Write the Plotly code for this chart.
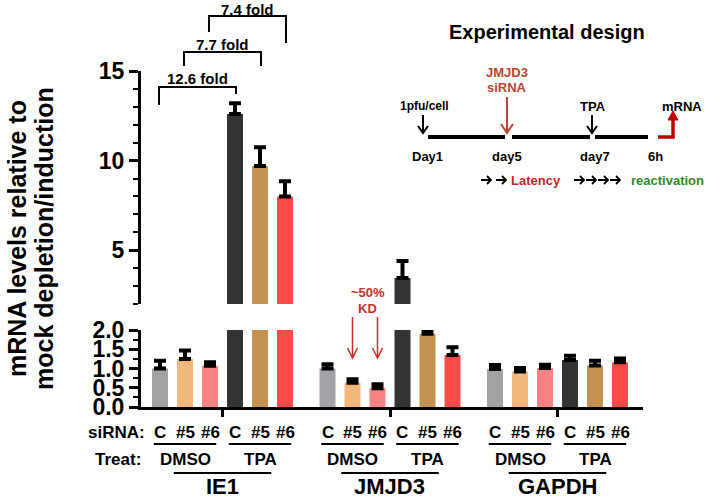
import plotly.graph_objects as go

# ---------------- data ----------------
genes = ["IE1", "JMJD3", "GAPDH"]
sirna_labels = ["C", "#5", "#6", "C", "#5", "#6"]
treat_labels = ["DMSO", "TPA"]

ie1_mean = [1.00, 1.25, 1.07, 12.6, 9.7, 8.0]
ie1_err = [0.20, 0.22, 0.09, 0.60, 1.05, 0.85]
jmjd3_mean = [1.00, 0.63, 0.49, 3.45, 1.90, 1.35]
jmjd3_err = [0.11, 0.09, 0.10, 0.95, 0.07, 0.20]
gapdh_mean = [0.99, 0.92, 1.01, 1.22, 1.08, 1.16]
gapdh_err = [0.10, 0.09, 0.09, 0.11, 0.12, 0.10]

bar_colors = ["#a3a3a7", "#f2b77b", "#f98282", "#333333", "#c29250", "#fa4b4b"]
fold_labels = ["12.6 fold", "7.7 fold", "7.4 fold"]
upper_ticks = [5, 10, 15]
lower_ticks = [0, 0.5, 1.0, 1.5, 2.0]
lower_ticktext = ["0.0", "0.5", "1.0", "1.5", "2.0"]
BREAK = 2.0

# ---------------- layout geometry ----------------
W, H = 706, 498
ML, MR, MT, MB = 141, 63, 60, 91
XMIN, XMAX = -0.76, 19.32
GROUP_STEP = 6.7
FONT = "Arial, Liberation Sans, sans-serif"


def px(x):
    return (x - ML) / (W - ML - MR)


def py(y):
    return (H - MB - y) / (H - MT - MB)


def dx(x):
    return (x - XMIN) / (XMAX - XMIN)


means = ie1_mean + jmjd3_mean + gapdh_mean
errs = ie1_err + jmjd3_err + gapdh_err
xs = [g * GROUP_STEP + i for g in range(len(genes)) for i in range(6)]
colors = bar_colors * len(genes)

upper_means = [m if m > BREAK else None for m in means]
lower_errs = [e if m < BREAK else 0 for m, e in zip(means, errs)]

fig = go.Figure()
for yax, vals, ev in [("y", means, lower_errs), ("y2", upper_means, errs)]:
    fig.add_trace(go.Bar(
        x=xs, y=vals, yaxis=yax, width=0.64,
        marker=dict(color=colors, line=dict(width=0)),
        error_y=dict(type="data", array=ev, arrayminus=[0] * len(ev),
                     symmetric=False, color="black", thickness=4, width=6),
        showlegend=False, hoverinfo="skip",
    ))

lower_dom = [0, py(330)]
upper_dom = [py(304), py(71)]

fig.update_layout(
    width=W, height=H, autosize=False,
    margin=dict(l=ML, r=MR, t=MT, b=MB, pad=0),
    plot_bgcolor="white", paper_bgcolor="white",
    barmode="overlay",
    font=dict(family=FONT, color="black"),
    xaxis=dict(domain=[0, 1], range=[XMIN, XMAX], anchor="y",
               showline=True, linecolor="black", linewidth=3,
               tickmode="array", tickvals=[g * GROUP_STEP + 2.5 for g in range(3)],
               ticktext=["", "", ""], ticks="outside", ticklen=7, tickwidth=3,
               tickcolor="black", showgrid=False, zeroline=False),
    yaxis=dict(domain=lower_dom, range=[0, 2], anchor="x",
               showline=True, linecolor="black", linewidth=3,
               tickmode="array", tickvals=lower_ticks, ticktext=lower_ticktext,
               ticks="outside", ticklen=9, tickwidth=3, tickcolor="black",
               tickfont=dict(size=23, family=FONT, weight="bold"),
               minor=dict(dtick=0.25, ticklen=5, tickwidth=2, tickcolor="black", ticks="outside"),
               showgrid=False, zeroline=False),
    yaxis2=dict(domain=upper_dom, range=[2, 15], anchor="x",
                showline=True, linecolor="black", linewidth=3,
                tickmode="array", tickvals=upper_ticks,
                ticks="outside", ticklen=9, tickwidth=3, tickcolor="black",
                tickfont=dict(size=23, family=FONT, weight="bold"),
                minor=dict(tickmode="array", tickvals=list(range(2, 16)), ticklen=5,
                           tickwidth=2, tickcolor="black", ticks="outside"),
                showgrid=False, zeroline=False),
)

shapes = []
ann = []


def text(x, y, s, size=12, color="black", xanchor="center", yanchor="middle"):
    ann.append(dict(x=x, y=y, xref="paper", yref="paper", text="<b>%s</b>" % s,
                    showarrow=False, xanchor=xanchor, yanchor=yanchor,
                    font=dict(size=size, color=color, family=FONT)))


def line(x0, y0, x1, y1, color="black", width=2):
    shapes.append(dict(type="line", xref="paper", yref="paper", x0=x0, y0=y0,
                       x1=x1, y1=y1, line=dict(color=color, width=width)))


def path(points, color="black", width=2, fill=None):
    d = ""
    for cmd, (a, b) in points:
        d += "%s%.5f,%.5f " % (cmd, px(a), py(b))
    if fill:
        d += "Z"
    shapes.append(dict(type="path", xref="paper", yref="paper", path=d,
                       line=dict(color=color, width=width),
                       fillcolor=fill if fill else "rgba(0,0,0,0)"))


def down_arrow(x, y0, y1, color, width=2, hw=5, hh=8):
    path([("M", (x, y0)), ("L", (x, y1)), ("M", (x - hw, y1 - hh)),
          ("L", (x, y1)), ("L", (x + hw, y1 - hh))], color=color, width=width)


def right_arrow(cx, y, color="black", width=1.8):
    path([("M", (cx - 5, y)), ("L", (cx + 5, y)), ("M", (cx + 1, y - 4)),
          ("L", (cx + 5, y)), ("L", (cx + 1, y + 4))], color=color, width=width)


# y-axis title (two lines)
text(px(17), py(239), "mRNA levels relative to", size=25)
ann[-1]["textangle"] = -90
text(px(44), py(239), "mock depletion/induction", size=25)
ann[-1]["textangle"] = -90

# fold-change brackets
bracket_tops = [87, 52, 16]
bracket_left_bottoms = [105, 66, 32]
bracket_right_bottoms = [94, 66, 43]
label_centers = [79, 44, 9]
for k, lab in enumerate(fold_labels):
    xl = dx(xs[k]) - 0.002
    xr = dx(xs[k + 3]) + 0.002
    yt = py(bracket_tops[k])
    shapes.append(dict(type="path", xref="paper", yref="paper",
                       path="M%.5f,%.5f L%.5f,%.5f L%.5f,%.5f L%.5f,%.5f" % (
                           xl, py(bracket_left_bottoms[k]), xl, yt, xr, yt, xr,
                           py(bracket_right_bottoms[k])),
                       line=dict(color="black", width=2)))
    text((xl + xr) / 2, py(label_centers[k]), lab, size=15)

# ~50% KD annotation
kd_red = "#c8302c"
text(dx((xs[7] + xs[8]) / 2) + 0.005, py(292), "~50%", size=13, color=kd_red)
text(dx((xs[7] + xs[8]) / 2) + 0.005, py(308), "KD", size=13, color=kd_red)
for i in (7, 8):
    xp = ML + dx(xs[i]) * (W - ML - MR)
    down_arrow(xp, 317, 358, kd_red, width=1.5, hw=5, hh=10)

# bottom category labels
text(px(147), py(432), "siRNA:", size=17, xanchor="right")
text(px(143), py(459), "Treat:", size=17, xanchor="right")
for g, gene in enumerate(genes):
    base = g * GROUP_STEP
    for i in range(6):
        text(dx(base + i), py(432), sirna_labels[i], size=17)
    for t, tl in enumerate(treat_labels):
        c = base + 3 * t + 1
        line(dx(c - 1.25), py(444), dx(c + 1.25), py(444), width=2)
        text(dx(c), py(459), tl, size=17)
    gc = base + 2.5
    line(dx(gc - 1.95), py(473), dx(gc + 1.95), py(473), width=2)
    text(dx(gc), py(486), gene, size=22)

# ---------------- experimental design inset ----------------
design_red = "#b8452f"
text(px(547), py(32), "Experimental design", size=20)
text(px(507), py(72), "JMJD3", size=13, color=design_red)
text(px(507), py(88), "siRNA", size=13, color=design_red)
text(px(424), py(106), "1pfu/cell", size=12)
text(px(593), py(106), "TPA", size=13)
text(px(682), py(106), "mRNA", size=13)
down_arrow(423, 115, 133, "black", width=2, hw=5, hh=7)
down_arrow(507, 97, 133, design_red, width=2, hw=6, hh=9)
down_arrow(592, 115, 133, "black", width=2, hw=5, hh=7)
for a, b in [(428, 505), (512, 590), (595, 648)]:
    line(px(a), py(137), px(b), py(137), width=4)
path([("M", (658, 137)), ("L", (673, 137)), ("L", (673, 118))], color="#c00000", width=3.5)
path([("M", (668, 120)), ("L", (673, 111)), ("L", (678, 120))], color="#c00000", width=1, fill="#c00000")
text(px(427), py(156), "Day1", size=13)
text(px(507), py(156), "day5", size=13)
text(px(595), py(156), "day7", size=13)
text(px(655), py(156), "6h", size=13)
for cx in (486, 501):
    right_arrow(cx, 180)
for cx in (579, 591, 603, 615):
    right_arrow(cx, 180)
text(px(536), py(180), "Latency", size=13, color="#c0282a")
text(px(667), py(180), "reactivation", size=13, color="#2e8b2e")

fig.update_layout(shapes=shapes, annotations=ann)
fig.write_html("out.html", config={"displayModeBar": False},
               post_script="document.body.style.margin='0';")
